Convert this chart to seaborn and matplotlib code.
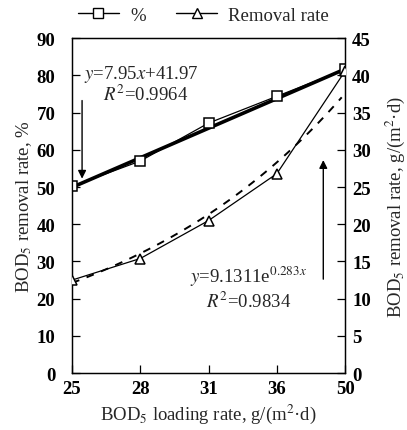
import numpy as np
import pandas as pd
import matplotlib
matplotlib.use("Agg")
import matplotlib.pyplot as plt
import seaborn as sns
from matplotlib.lines import Line2D

sns.set_theme(style="ticks")
plt.rcParams["font.family"] = ["Liberation Serif", "DejaVu Serif"]
plt.rcParams["mathtext.fontset"] = "stix"

# BOD5 loading rate categories, g/(m2·d)
loading = ["25", "28", "31", "36", "50"]
# BOD5 removal percentage
removal_pct = [50.2, 57.0, 67.2, 74.4, 81.6]
# BOD5 removal rate, g/(m2·d)
removal_rate = [12.5, 15.4, 20.5, 26.8, 40.6]

# trend-line coefficients
lin_slope, lin_icpt = 7.95, 41.97
exp_a, exp_b = 9.1311, 0.283

pos = np.arange(len(loading))
df = pd.DataFrame({"pos": pos, "pct": removal_pct, "rate": removal_rate})

fig = plt.figure(figsize=(4.07, 4.31), dpi=100)
ax = fig.add_axes([0.177, 0.132, 0.671, 0.777])
ax2 = ax.twinx()

# linear trend (thick) and measured percentage
xs = pos + 1
ax.plot(pos, lin_slope * xs + lin_icpt, color="black", lw=2.6, zorder=3)
sns.lineplot(data=df, x="pos", y="pct", ax=ax, color="black", lw=0.9,
             marker="s", markersize=6.5, markerfacecolor="white",
             markeredgecolor="black", markeredgewidth=1.1, zorder=4)

# exponential trend (dashed) and measured removal rate
xf = np.linspace(0, 3.95, 100)
ax2.plot(xf, exp_a * np.exp(exp_b * (xf + 1)), color="black", lw=1.4,
         ls=(0, (4, 4)), zorder=3)
sns.lineplot(data=df, x="pos", y="rate", ax=ax2, color="black", lw=0.9,
             marker="^", markersize=6.5, markerfacecolor="white",
             markeredgecolor="black", markeredgewidth=1.1, zorder=4)

ax.set_xlim(0, 4)
ax.set_ylim(0, 90)
ax2.set_ylim(0, 45)
ax.set_xticks(pos)
ax.set_xticklabels(loading)
ax.set_yticks(np.arange(0, 91, 10))
ax2.set_yticks(np.arange(0, 46, 5))

for a in (ax, ax2):
    a.tick_params(direction="in", length=6, width=0.9, labelsize=13.5,
                  colors="black", pad=5)
    for lab in a.get_xticklabels() + a.get_yticklabels():
        lab.set_fontweight("bold")
    for sp in a.spines.values():
        sp.set_visible(True)
        sp.set_color("black")
        sp.set_linewidth(0.9)
ax.tick_params(axis="y", pad=12)

ax.set_xlabel("BOD$_5$ loading rate, g/(m$^2$·d)", fontsize=13.5, labelpad=3)
ax.set_ylabel("BOD$_5$ removal rate, %", fontsize=13.5, labelpad=2)
ax2.set_ylabel("BOD$_5$ removal rate, g/(m$^2$·d)", fontsize=13.5, labelpad=9)

# equations and arrows
ax.text(0.18, 80.6, "$y$=7.95$x$+41.97", fontsize=13.5, va="center", ha="left")
ax.text(1.07, 75.0, "$R^2$=0.9964", fontsize=13.5, va="center", ha="center")
ax.annotate("", xy=(0.147, 51.5), xytext=(0.147, 74.0),
            arrowprops=dict(arrowstyle="-|>", color="black", lw=1.0,
                            mutation_scale=12))
ax.text(2.58, 26.2, "$y$=9.1311e$^{0.283x}$", fontsize=13.5, va="center",
        ha="center")
ax.text(2.58, 19.4, "$R^2$=0.9834", fontsize=13.5, va="center", ha="center")
ax.annotate("", xy=(3.68, 58.0), xytext=(3.68, 24.5),
            arrowprops=dict(arrowstyle="-|>", color="black", lw=1.0,
                            mutation_scale=12))

handles = [
    Line2D([], [], color="black", lw=1.0, marker="s", markersize=6.5,
           markerfacecolor="white", markeredgecolor="black"),
    Line2D([], [], color="black", lw=1.0, marker="^", markersize=6.5,
           markerfacecolor="white", markeredgecolor="black"),
]
fig.legend(handles, ["%", "Removal rate"], loc="center", ncol=2,
           bbox_to_anchor=(0.5, 0.963), frameon=False, fontsize=13.5,
           handlelength=2.2, columnspacing=1.6, handletextpad=0.6)

fig.savefig("out.png", dpi=100)
